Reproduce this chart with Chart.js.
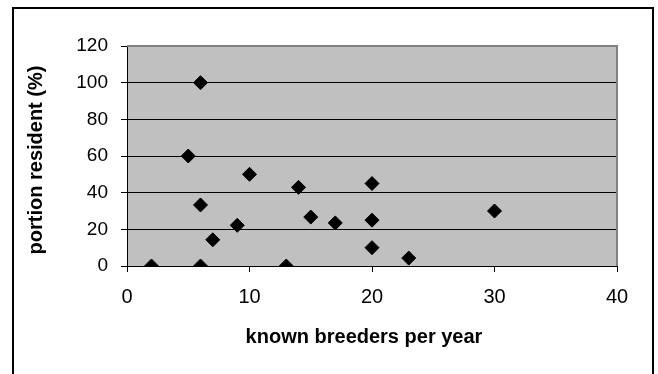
<!DOCTYPE html>
<html>
<head>
<meta charset="utf-8">
<script src="https://cdn.jsdelivr.net/npm/chart.js@4"></script>
<style>
  html, body { margin: 0; padding: 0; background: #fff; }
  #wrap { width: 658px; height: 374px; position: relative; }
</style>
</head>
<body>
<div id="wrap"><canvas id="c" width="658" height="374"></canvas></div>
<script>
// Breeders per year vs. share of resident birds
const breedersPerYear = [2, 5, 6, 6, 6, 7, 9, 10, 13, 14, 15, 17, 20, 20, 20, 23, 30];
const portionResident = [0, 60, 100, 33.3, 0, 14.3, 22.2, 50, 0, 42.9, 26.7, 23.5, 45, 25, 10, 4.3, 30];
const xTicks = [0, 10, 20, 30, 40];
const yTicks = [0, 20, 40, 60, 80, 100, 120];
const xTitle = 'known breeders per year';
const yTitle = 'portion resident (%)';

const points = breedersPerYear.map((x, i) => ({ x: x, y: portionResident[i] }));

const PLOT = { left: 127, top: 46, right: 617, bottom: 266 };
const W = 658, H = 374;
const FONT = "'Liberation Sans', Arial, sans-serif";

// Gray plot background, gray plot border, outer frame and axis titles
const framePlugin = {
  id: 'frame',
  beforeDraw(chart) {
    const { ctx, chartArea: a } = chart;
    ctx.save();
    ctx.fillStyle = '#ffffff';
    ctx.fillRect(0, 0, W, H);
    ctx.fillStyle = '#c0c0c0';
    ctx.fillRect(a.left, a.top, a.right - a.left, a.bottom - a.top);
    ctx.restore();
  },
  beforeDatasetsDraw(chart) {
    const { ctx, chartArea: a } = chart;
    ctx.save();
    ctx.strokeStyle = '#808080';
    ctx.lineWidth = 2;
    ctx.beginPath();
    ctx.moveTo(a.left, a.top);
    ctx.lineTo(a.right, a.top);
    ctx.lineTo(a.right, a.bottom);
    ctx.stroke();
    ctx.restore();
  },
  afterDraw(chart) {
    const { ctx } = chart;
    ctx.save();
    // outer frame: top, left and right edges (bottom runs past the canvas)
    ctx.fillStyle = '#000';
    ctx.fillRect(12, 7, 642, 2);
    ctx.fillRect(12, 7, 2, H - 7);
    ctx.fillRect(652, 7, 2, H - 7);

    ctx.font = 'bold 20px ' + FONT;
    ctx.textAlign = 'center';
    ctx.textBaseline = 'middle';
    ctx.fillText(xTitle, 364, 337);
    ctx.translate(36, 160);
    ctx.rotate(-Math.PI / 2);
    ctx.fillText(yTitle, 0, 0);
    ctx.restore();
  }
};

new Chart(document.getElementById('c'), {
  type: 'scatter',
  data: {
    datasets: [{
      data: points,
      pointStyle: 'rectRot',
      pointRadius: 7,
      pointHoverRadius: 7,
      backgroundColor: '#000',
      borderColor: '#000',
      borderWidth: 1
    }]
  },
  plugins: [framePlugin],
  options: {
    responsive: false,
    animation: false,
    devicePixelRatio: 1,
    layout: { padding: { left: 0, top: PLOT.top, right: W - PLOT.right, bottom: 0 } },
    plugins: { legend: { display: false }, tooltip: { enabled: false } },
    scales: {
      x: {
        type: 'linear',
        min: 0, max: 40,
        afterBuildTicks(scale) { scale.ticks = xTicks.map(v => ({ value: v })); },
        afterFit(scale) { scale.height = H - PLOT.bottom; },
        border: { display: true, color: '#000', width: 1 },
        grid: { drawOnChartArea: false, drawTicks: true, tickLength: 6, color: '#000', lineWidth: 1 },
        ticks: { color: '#000', font: { family: FONT, size: 20 }, padding: 13, maxRotation: 0 }
      },
      y: {
        type: 'linear',
        min: 0, max: 120,
        afterBuildTicks(scale) { scale.ticks = yTicks.map(v => ({ value: v })); },
        afterFit(scale) { scale.width = PLOT.left; },
        border: { display: true, color: '#000', width: 1 },
        grid: { drawOnChartArea: true, drawTicks: true, tickLength: 6, color: '#000', lineWidth: 1 },
        ticks: { color: '#000', font: { family: FONT, size: 19 }, padding: 13 }
      }
    }
  }
});
</script>
</body>
</html>
